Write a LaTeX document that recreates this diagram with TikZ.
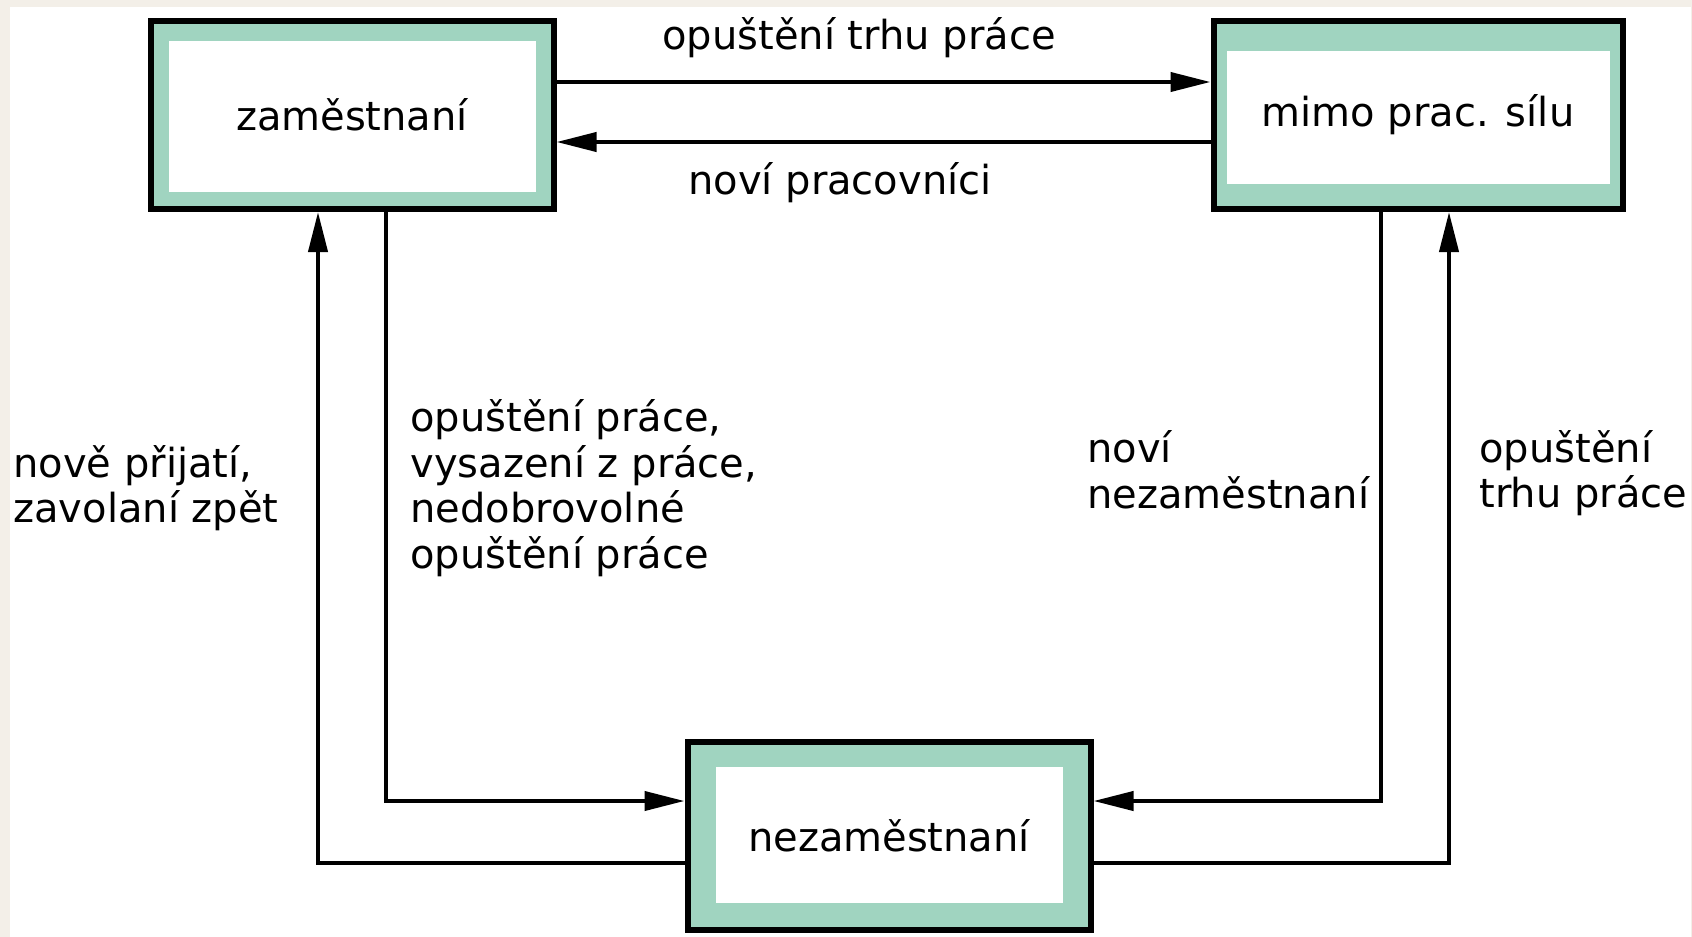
\documentclass[tikz,border=0pt]{standalone}
\usepackage{fontspec}
\setmainfont{DejaVu Sans}
\usetikzlibrary{arrows.meta}
\definecolor{bandgreen}{RGB}{160,212,192}
\definecolor{paper}{RGB}{243,239,232}

\tikzset{
  stav/.style n args={4}{draw=black, line width=3pt, fill=bandgreen,
    minimum width=#1, minimum height=94pt, inner sep=0pt,
    path picture={\fill[white]
      ([shift={(#2,-#3)}]path picture bounding box.north west) rectangle
      ([shift={(-#2,#4)}]path picture bounding box.south east);}},
  tok/.style={line width=2pt, -{Triangle[length=20pt,width=9.5pt]}},
  popis/.style={align=left, inner sep=0pt}
}

\begin{document}
\begin{tikzpicture}[x=0.5pt,y=-0.5pt,font=\fontsize{20pt}{22.8pt}\selectfont]
  % background
  \fill[paper] (0,0) rectangle (1692,937);
  \fill[white] (10,7) rectangle (1691,937);
  \useasboundingbox (0,0) rectangle (1692,937);

  % states
  \node (zam) [stav={201.5pt}{9pt}{10pt}{8.5pt}] at (352,115) {zaměstnaní};
  \node (mimo) [stav={204.5pt}{6.5pt}{15pt}{12.5pt}] at (1418,115) {mimo prac. sílu};
  \node (nez) [stav={201.5pt}{14pt}{12.5pt}{13.5pt}] at (889,836) {nezaměstnaní};

  % flows at top
  \draw[tok] ([yshift=16.5pt]zam.east) -- ([yshift=16.5pt]mimo.west);
  \draw[tok] ([yshift=-13.5pt]mimo.west) -- ([yshift=-13.5pt]zam.east);
  \node at (859,38) {opuštění trhu práce};
  \node at (840,183) {noví pracovníci};

  % flows to and from nezaměstnaní
  \draw[tok] ([xshift=17pt]zam.south) |- ([yshift=17.5pt]nez.west);
  \draw[tok] ([yshift=-13.5pt]nez.west) -| ([xshift=-17pt]zam.south);
  \draw[tok] ([xshift=-18.5pt]mimo.south) |- ([yshift=17.5pt]nez.east);
  \draw[tok] ([yshift=-13.5pt]nez.east) -| ([xshift=15.5pt]mimo.south);

  \node[popis, anchor=west] at (13,488) {nově přijatí,\\zavolaní zpět};
  \node[popis, anchor=west] at (410,488) {opuštění práce,\\vysazení z práce,\\nedobrovolné\\opuštění práce};
  \node[popis, anchor=west] at (1087,470) {noví\\nezaměstnaní};
  \node[popis, anchor=west] at (1479,473) {opuštění\\trhu práce};
\end{tikzpicture}
\end{document}
